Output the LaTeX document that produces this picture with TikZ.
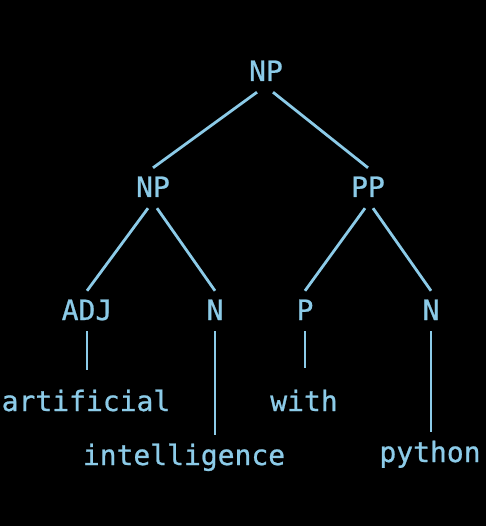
\documentclass[tikz,border=0pt]{standalone}
\usepackage{fontspec}
\newfontfamily\treefont[FakeBold=0.8]{DejaVu Sans Mono}
\definecolor{treeblue}{HTML}{8CCBE8}
\begin{document}
\begin{tikzpicture}[x=1pt,y=-1pt,
        cat/.style={anchor=base,text height=21pt,text depth=3pt,inner ysep=8pt,inner xsep=2pt,text=treeblue,font=\treefont\fontsize{28}{30}\selectfont},
        word/.style={anchor=base,text height=22pt,text depth=6pt,inner ysep=8pt,inner xsep=0pt,text=treeblue,font=\treefont\fontsize{28}{30}\selectfont},
        branch/.style={treeblue,line width=2.8pt}]
            \fill[black] (0,0) rectangle (486,526);
            \useasboundingbox (0,0) rectangle (486,526);
            \node[cat] (np0) at (266,81) {NP};
            \node[cat] (np1) at (153,197) {NP};
            \node[cat] (pp) at (368,197) {PP};
            \node[cat] (adj) at (87,320) {ADJ};
            \node[cat] (n1) at (215,320) {N};
            \node[cat] (p) at (305,320) {P};
            \node[cat] (n2) at (431,320) {N};
            \node[word] (artificial) at (86,411) {artificial};
            \node[word] (with) at (304,411) {with};
            \node[word] (intelligence) at (184,465) {intelligence};
            \node[word] (python) at (430,462) {python};
            \foreach \a/\s/\b in {np0/-9/np1,np0/7/pp,np1/-5/adj,np1/4/n1,pp/-3/p,pp/5/n2}{
                \draw[branch] ([xshift=\s pt]\a.south)--(\b.north);
            }
            \foreach \a/\b/\c in {adj/artificial/11,n1/intelligence/0,p/with/13,n2/python/0}{
                \draw[branch,shorten >=\c pt] (\a.south)--(\a.south |- \b.north);
            }
        \end{tikzpicture}
\end{document}
